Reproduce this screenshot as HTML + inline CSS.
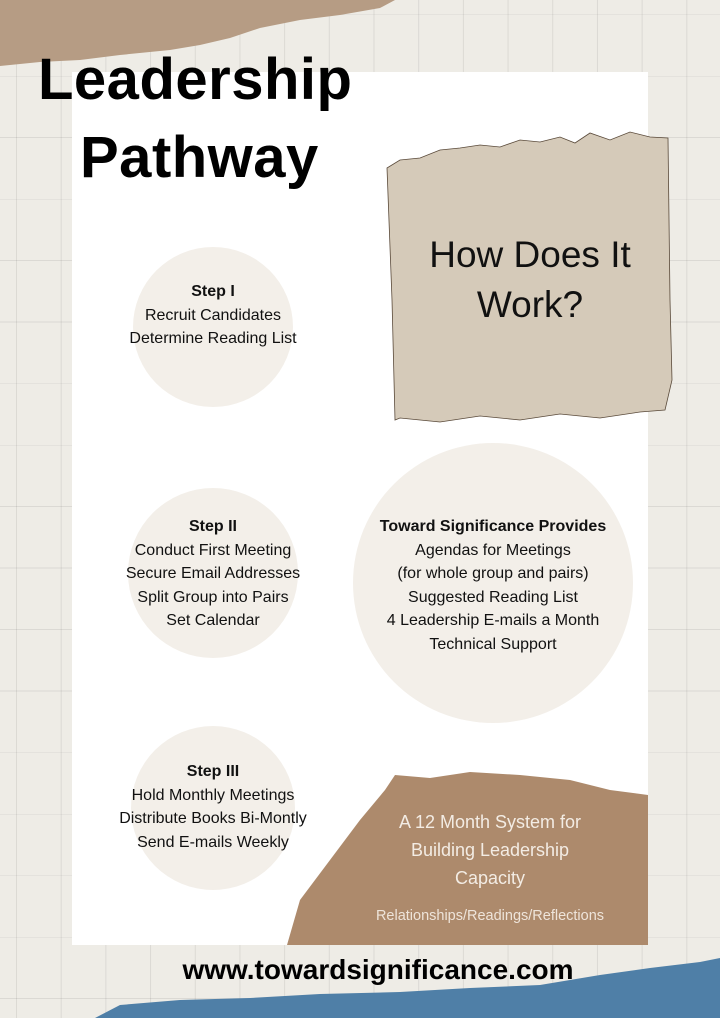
<!DOCTYPE html>
<html><head><style>
body{margin:0;width:720px;height:1018px;overflow:hidden;position:relative;font-family:"Liberation Sans",sans-serif;
background-color:#eeece6;
background-image:linear-gradient(to right,rgba(0,0,0,0.08) 1px,transparent 1px),linear-gradient(to bottom,rgba(0,0,0,0.08) 1px,transparent 1px);
background-size:44.7px 61.5px;background-position:16px 14px;}
.abs{position:absolute}
.t{position:absolute;text-align:center;color:#111;font-size:16px;line-height:23.5px}
.b{font-weight:bold}
</style></head><body>
<svg class="abs" style="left:0;top:0" width="720" height="1018">
<polygon points="0,0 395,0 380,8 340,15 300,20 260,28 230,38 200,45 170,50 120,55 80,60 40,62 0,66" fill="#b69c84"/>
<rect x="72" y="72" width="576" height="873" fill="#fff"/>
<polygon points="387,168 400,160 420,158 440,150 460,148 480,145 500,147 520,140 540,142 560,137 575,143 590,133 610,140 630,132 650,137 668,138 670,300 672,380 665,410 640,412 600,418 560,414 520,420 480,416 440,422 400,418 395,420 392,300" fill="#d5cab9" stroke="#5a4a3a" stroke-width="0.8"/>
<g fill="#f3efe9">
<circle cx="213" cy="327" r="80"/><circle cx="213" cy="573" r="85"/><circle cx="213" cy="808" r="82"/><circle cx="493" cy="583" r="140"/>
</g>
<polygon points="287,945 300,900 330,860 360,820 385,790 395,775 430,778 470,772 520,775 570,780 610,790 648,795 648,945" fill="#ad8a6c"/>
<polygon points="95,1018 120,1005 180,1000 250,998 320,994 400,992 470,988 540,985 600,975 650,968 700,962 720,958 720,1018" fill="#4f7fa7"/>
</svg>
<div class="abs b" style="left:38px;top:45px;font-size:58px;line-height:70px;color:#000;letter-spacing:0.5px">Leadership</div>
<div class="abs b" style="left:80px;top:123px;font-size:58px;line-height:70px;color:#000;letter-spacing:0.5px">Pathway</div>
<div class="t" style="left:400px;width:260px;top:230px;font-size:37px;line-height:50px;color:#111">How Does It Work?</div>
<div class="t" style="left:100px;width:226px;top:280px"><span class="b">Step I</span><br>Recruit Candidates<br>Determine Reading List</div>
<div class="t" style="left:100px;width:226px;top:515px"><span class="b">Step II</span><br>Conduct First Meeting<br>Secure Email Addresses<br>Split Group into Pairs<br>Set Calendar</div>
<div class="t" style="left:343px;width:300px;top:515px"><span class="b">Toward Significance Provides</span><br>Agendas for Meetings<br>(for whole group and pairs)<br>Suggested Reading List<br>4 Leadership E-mails a Month<br>Technical Support</div>
<div class="t" style="left:95px;width:236px;top:760px"><span class="b">Step III</span><br>Hold Monthly Meetings<br>Distribute Books Bi-Montly<br>Send E-mails Weekly</div>
<div class="t" style="left:375px;width:230px;top:808px;font-size:18px;line-height:28px;color:#f3ece4">A 12 Month System for<br>Building Leadership<br>Capacity</div>
<div class="t" style="left:345px;width:290px;top:905px;font-size:14.5px;color:#eee4da">Relationships/Readings/Reflections</div>
<div class="t b" style="left:100px;width:556px;top:952px;font-size:28px;line-height:36px;color:#000">www.towardsignificance.com</div>
</body></html>
